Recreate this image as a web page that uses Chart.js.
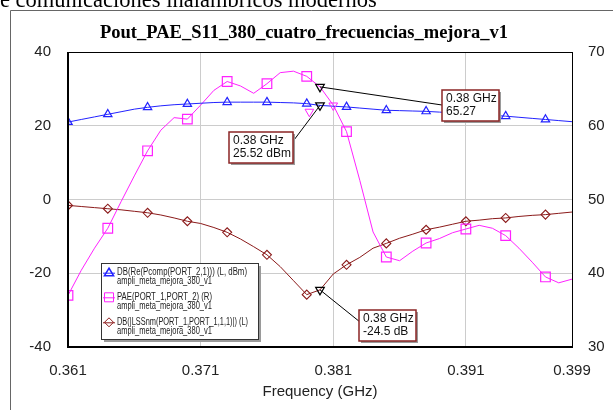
<!DOCTYPE html>
<html>
<head>
<meta charset="utf-8">
<script src="https://cdn.jsdelivr.net/npm/chart.js@4.4.0/dist/chart.umd.min.js"></script>
<style>
  html, body { margin: 0; padding: 0; background: #fff; }
  #wrap { width: 613px; height: 410px; }
</style>
</head>
<body>
<div id="wrap"><canvas id="chart" width="613" height="410"></canvas></div>
<script>
// Frequency sweep (GHz)
const freqs = [0.361, 0.362, 0.363, 0.364, 0.365, 0.366, 0.367, 0.368, 0.369, 0.370,
               0.371, 0.372, 0.373, 0.374, 0.375, 0.376, 0.377, 0.378, 0.379, 0.380,
               0.381, 0.382, 0.383, 0.384, 0.385, 0.386, 0.387, 0.388, 0.389, 0.390,
               0.391, 0.392, 0.393, 0.394, 0.395, 0.396, 0.397, 0.398, 0.399];
// DB(Re(Pcomp(PORT_2,1))) - left axis, dBm
const poutDbm = [21.0, 21.7, 22.4, 23.1, 23.8, 24.5, 25.0, 25.4, 25.7, 25.9,
                 26.1, 26.3, 26.4, 26.4, 26.4, 26.4, 26.3, 26.2, 26.0, 25.52,
                 25.3, 25.1, 24.8, 24.5, 24.2, 24.1, 24.0, 23.9, 23.7, 23.5,
                 23.3, 23.1, 22.8, 22.6, 22.3, 22.0, 21.7, 21.4, 21.1];
// PAE(PORT_1,PORT_2) - right axis
const paePct = [37.0, 40.4, 43.4, 46.1, 49.7, 53.2, 56.6, 59.4, 61.1, 60.9,
                62.8, 64.8, 66.0, 65.4, 64.4, 65.7, 67.2, 67.4, 66.7, 65.27,
                62.8, 59.2, 52.6, 45.6, 42.2, 41.7, 43.0, 44.1, 44.7, 45.5,
                46.0, 46.5, 46.1, 45.1, 43.4, 41.5, 39.5, 38.7, 39.2];
// DB(|LSSnm(PORT_1,PORT_1,1,1)|) - left axis, dB
const s11Db = [-1.6, -1.9, -2.2, -2.5, -2.8, -3.2, -3.6, -4.2, -5.0, -5.9,
               -6.5, -7.6, -8.9, -10.7, -12.8, -15.0, -18.2, -22.0, -25.8, -24.5,
               -20.2, -17.7, -15.7, -13.2, -11.9, -10.5, -9.4, -8.2, -7.5, -6.7,
               -5.9, -5.6, -5.2, -5.0, -4.6, -4.3, -4.1, -3.75, -3.4];

const xTicks = [0.361, 0.371, 0.381, 0.391, 0.399];
const markerFreq = 0.38;
const markerPout = 25.52;
const markerPae = 65.27;
const markerS11 = -24.5;
const pinkGlyphX = [0.3792, 0.381];
const pinkGlyphY = [23.8, 25.5];

const legendLines = [
  ['DB(Re(Pcomp(PORT_2,1))) (L, dBm)', 'ampli_meta_mejora_380_v1'],
  ['PAE(PORT_1,PORT_2) (R)', 'ampli_meta_mejora_380_v1'],
  ['DB(|LSSnm(PORT_1,PORT_1,1,1)|) (L)', 'ampli_meta_mejora_380_v1']
];

const BLUE = '#2222ff';
const PINK = '#ff22ff';
const BROWN = '#8b1a1a';

function toXY(ys) {
  return freqs.map((f, i) => ({ x: f, y: ys[i] }));
}
function everyThird(r) {
  return ctx => (ctx.dataIndex % 3 === 0 ? r : 0);
}

const decor = {
  id: 'decor',
  beforeDraw(chart) {
    const ctx = chart.ctx;
    ctx.save();
    ctx.fillStyle = '#fff';
    ctx.fillRect(0, 0, chart.width, chart.height);
    // page frame
    ctx.strokeStyle = '#666';
    ctx.lineWidth = 1;
    ctx.beginPath();
    ctx.moveTo(10.5, 410);
    ctx.lineTo(10.5, 10.5);
    ctx.lineTo(613, 10.5);
    ctx.stroke();
    // clipped heading from the page above
    ctx.fillStyle = '#000';
    ctx.font = '22.5px "Liberation Serif"';
    ctx.textBaseline = 'alphabetic';
    ctx.fillText('e comunicaciones inalámbricos modernos', 0, 7);
    ctx.restore();
  },
  afterDraw(chart) {
    const ctx = chart.ctx;
    const a = chart.chartArea;
    const sx = chart.scales.x, sy = chart.scales.y, sy2 = chart.scales.y2;
    ctx.save();

    // plot border
    ctx.strokeStyle = '#000';
    ctx.lineWidth = 1;
    ctx.strokeRect(a.left + 0.5, a.top + 0.5, a.right - a.left, a.bottom - a.top);
    ctx.lineWidth = 2;
    ctx.beginPath();
    ctx.moveTo(a.left, a.top);
    ctx.lineTo(a.left, a.bottom);
    ctx.lineTo(a.right, a.bottom);
    ctx.stroke();

    // title
    ctx.fillStyle = '#000';
    ctx.font = 'bold 18.5px "Liberation Serif"';
    ctx.textAlign = 'center';
    ctx.textBaseline = 'alphabetic';
    ctx.fillText('Pout_PAE_S11_380_cuatro_frecuencias_mejora_v1', 304, 38);

    // x axis title
    ctx.font = '15px "Liberation Sans"';
    ctx.fillStyle = '#222';
    ctx.textBaseline = 'middle';
    ctx.fillText('Frequency (GHz)', (a.left + a.right) / 2, 392);

    // legend box
    ctx.fillStyle = '#9a9a9a';
    ctx.fillRect(104, 266, 157, 76);
    ctx.fillStyle = '#fff';
    ctx.fillRect(101, 263, 157, 76);
    ctx.strokeStyle = '#333';
    ctx.lineWidth = 1;
    ctx.strokeRect(101.5, 263.5, 157, 76);
    const rows = [272.7, 297.3, 322.3];
    const cols = [BLUE, PINK, BROWN];
    rows.forEach((ry, i) => {
      ctx.strokeStyle = cols[i];
      ctx.lineWidth = 1;
      ctx.beginPath();
      ctx.moveTo(103, ry + 0.5);
      ctx.lineTo(115, ry + 0.5);
      ctx.stroke();
      ctx.beginPath();
      if (i === 0) {
        ctx.lineWidth = 1.6;
        ctx.moveTo(109, ry - 4.5);
        ctx.lineTo(113.5, ry + 3);
        ctx.lineTo(104.5, ry + 3);
        ctx.closePath();
      } else if (i === 1) {
        ctx.rect(104.5, ry - 4.5, 9, 9);
      } else {
        ctx.moveTo(109, ry - 4.5);
        ctx.lineTo(113.5, ry);
        ctx.lineTo(109, ry + 4.5);
        ctx.lineTo(104.5, ry);
        ctx.closePath();
      }
      ctx.stroke();
      ctx.fillStyle = '#222';
      ctx.font = '10px "Liberation Sans"';
      ctx.textAlign = 'left';
      ctx.textBaseline = 'middle';
      const w0 = [130, 95, 131][i];
      ctx.fillText(legendLines[i][0], 117, ry, w0);
      ctx.fillText(legendLines[i][1], 117, ry + 9, 95);
    });

    // marker annotations
    const px = sx.getPixelForValue(markerFreq);
    const boxes = [
      { x: 229, y: 132, w: 64, h: 31, text: ['0.38 GHz', '25.52 dBm'], from: [294, 140], to: [px, sy.getPixelForValue(markerPout)] },
      { x: 442, y: 90, w: 57, h: 31, text: ['0.38 GHz', '65.27'], from: [442, 105], to: [px, sy2.getPixelForValue(markerPae)] },
      { x: 359, y: 310, w: 57, h: 31, text: ['0.38 GHz', '-24.5 dB'], from: [360, 322], to: [px, sy.getPixelForValue(markerS11)] }
    ];
    boxes.forEach(b => {
      ctx.strokeStyle = '#000';
      ctx.lineWidth = 1;
      ctx.beginPath();
      ctx.moveTo(b.from[0], b.from[1]);
      ctx.lineTo(b.to[0], b.to[1]);
      ctx.stroke();
      ctx.fillStyle = '#9a9a9a';
      ctx.fillRect(b.x + 2, b.y + 2, b.w, b.h);
      ctx.fillStyle = '#fff';
      ctx.fillRect(b.x, b.y, b.w, b.h);
      ctx.strokeStyle = '#8b2525';
      ctx.lineWidth = 1.5;
      ctx.strokeRect(b.x, b.y, b.w, b.h);
      ctx.fillStyle = '#111';
      ctx.font = '12px "Liberation Sans"';
      ctx.textAlign = 'left';
      ctx.textBaseline = 'middle';
      ctx.fillText(b.text[0], b.x + 4, b.y + 9);
      ctx.fillText(b.text[1], b.x + 4, b.y + 22);
    });
    ctx.restore();
  }
};

new Chart(document.getElementById('chart').getContext('2d'), {
  type: 'line',
  data: {
    datasets: [
      {
        label: 'm1',
        data: [{ x: markerFreq, y: markerPout }],
        yAxisID: 'y',
        showLine: false,
        pointStyle: 'triangle',
        rotation: 180,
        pointRadius: 5,
        borderColor: '#000',
        backgroundColor: 'transparent',
        borderWidth: 1.2,
        order: 0
      },
      {
        label: 'm2',
        data: [{ x: markerFreq, y: markerPae }],
        yAxisID: 'y2',
        showLine: false,
        pointStyle: 'triangle',
        rotation: 180,
        pointRadius: 5,
        borderColor: '#000',
        backgroundColor: 'transparent',
        borderWidth: 1.2,
        order: 0
      },
      {
        label: 'm3',
        data: [{ x: markerFreq, y: markerS11 }],
        yAxisID: 'y',
        showLine: false,
        pointStyle: 'triangle',
        rotation: 180,
        pointRadius: 5,
        borderColor: '#000',
        backgroundColor: 'transparent',
        borderWidth: 1.2,
        order: 0
      },
      {
        label: 'pink glyphs',
        data: pinkGlyphX.map((x, i) => ({ x: x, y: pinkGlyphY[i] })),
        yAxisID: 'y',
        showLine: false,
        pointStyle: 'triangle',
        rotation: 180,
        pointRadius: 5,
        borderColor: PINK,
        backgroundColor: 'transparent',
        borderWidth: 1,
        order: 0
      },
      {
        label: 'DB(Re(Pcomp(PORT_2,1))) (L, dBm)',
        data: toXY(poutDbm),
        yAxisID: 'y',
        borderColor: BLUE,
        borderWidth: 1,
        backgroundColor: 'transparent',
        pointStyle: 'triangle',
        pointRadius: everyThird(4.8),
        pointBorderWidth: 1.2,
        pointBackgroundColor: 'transparent',
        order: 1
      },
      {
        label: 'PAE(PORT_1,PORT_2) (R)',
        data: toXY(paePct),
        yAxisID: 'y2',
        borderColor: PINK,
        borderWidth: 1,
        backgroundColor: 'transparent',
        pointStyle: 'rect',
        pointRadius: everyThird(6.8),
        pointBorderWidth: 1.2,
        pointBackgroundColor: 'transparent',
        order: 1
      },
      {
        label: 'DB(|LSSnm(PORT_1,PORT_1,1,1)|) (L)',
        data: toXY(s11Db),
        yAxisID: 'y',
        borderColor: BROWN,
        borderWidth: 1,
        backgroundColor: 'transparent',
        pointStyle: 'rectRot',
        pointRadius: everyThird(4.5),
        pointBorderWidth: 1.1,
        pointBackgroundColor: 'transparent',
        order: 1
      }
    ]
  },
  options: {
    responsive: false,
    animation: false,
    devicePixelRatio: 1,
    layout: { padding: { top: 52, left: 0, right: 0, bottom: 0 } },
    plugins: {
      legend: { display: false },
      title: { display: false },
      tooltip: { enabled: false }
    },
    scales: {
      x: {
        type: 'linear',
        min: 0.361,
        max: 0.399,
        afterBuildTicks: scale => { scale.ticks = xTicks.map(v => ({ value: v })); },
        afterFit: scale => { scale.height = 63; },
        grid: { color: '#cccccc', lineWidth: 1, drawTicks: false },
        border: { display: false },
        ticks: {
          padding: 15,
          maxRotation: 0,
          autoSkip: false,
          color: '#222',
          font: { family: 'Liberation Sans', size: 15 },
          callback: v => v.toFixed(3)
        }
      },
      y: {
        position: 'left',
        min: -40,
        max: 40,
        afterFit: scale => { scale.width = 68; },
        grid: { color: '#cccccc', lineWidth: 1, drawTicks: false },
        border: { display: false },
        ticks: {
          stepSize: 20,
          padding: 17,
          color: '#222',
          font: { family: 'Liberation Sans', size: 15 }
        }
      },
      y2: {
        position: 'right',
        min: 30,
        max: 70,
        afterFit: scale => { scale.width = 41; },
        grid: { display: false, drawTicks: false },
        border: { display: false },
        ticks: {
          stepSize: 10,
          padding: 16,
          color: '#222',
          font: { family: 'Liberation Sans', size: 15 }
        }
      }
    }
  },
  plugins: [decor]
});
</script>
</body>
</html>
